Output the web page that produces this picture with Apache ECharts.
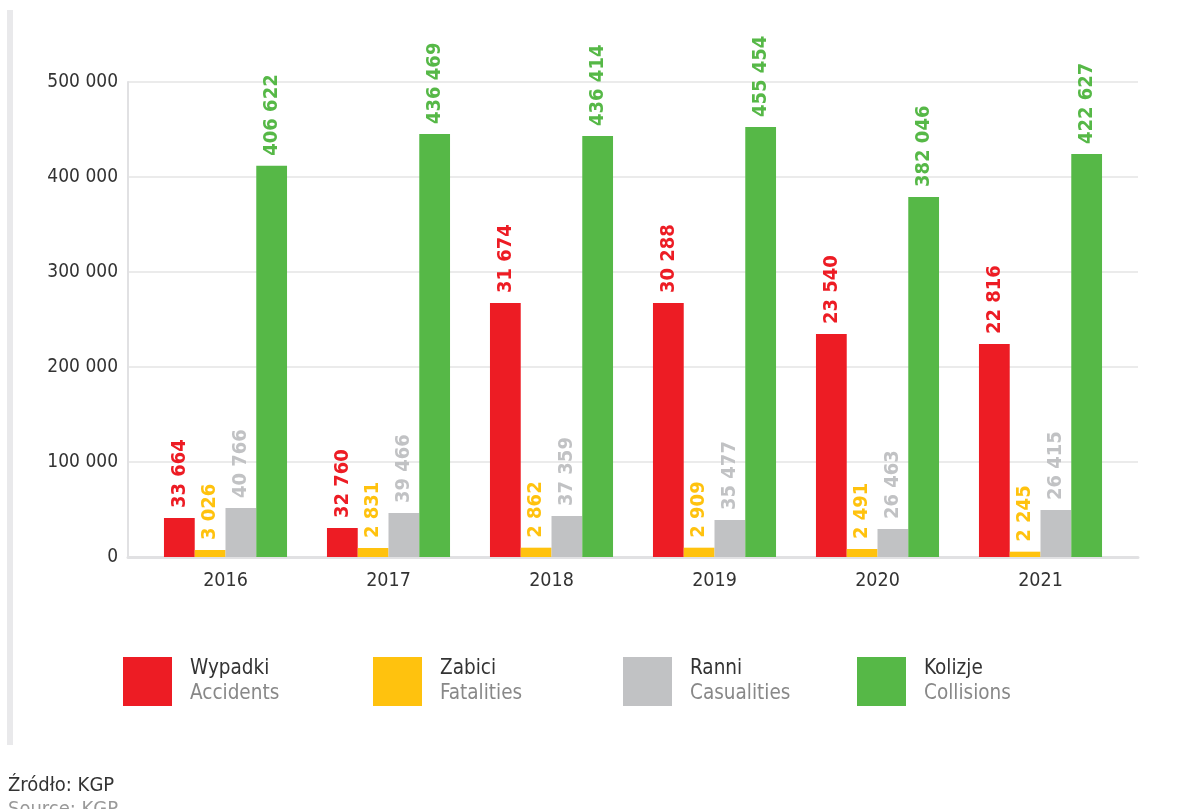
<!DOCTYPE html>
<html><head><meta charset="utf-8">
<script src="https://cdn.jsdelivr.net/npm/echarts@6/dist/echarts.min.js"></script>
<style>html,body{margin:0;padding:0;background:#fff}#c{width:1177px;height:809px}</style>
</head><body><div id="c"></div>
<script>
// ---- data ----
const years = ['2016', '2017', '2018', '2019', '2020', '2021'];
const seriesNamesPL = ['Wypadki', 'Zabici', 'Ranni', 'Kolizje'];
const seriesNamesEN = ['Accidents', 'Fatalities', 'Casualities', 'Collisions'];
// bar heights as drawn in the picture
const accidentsBars  = [41050, 30530, 267400, 267400, 234700, 224200];
const fatalitiesBars = [7400, 9500, 9800, 9800, 8400, 5600];
const casualtiesBars = [51600, 46300, 43200, 39000, 29500, 49500];
const collisionsBars = [411900, 445300, 443200, 452600, 379000, 424200];
// value labels as printed above the bars
const accidentsLabels  = ['33 664', '32 760', '31 674', '30 288', '23 540', '22 816'];
const fatalitiesLabels = ['3 026', '2 831', '2 862', '2 909', '2 491', '2 245'];
const casualtiesLabels = ['40 766', '39 466', '37 359', '35 477', '26 463', '26 415'];
const collisionsLabels = ['406 622', '436 469', '436 414', '455 454', '382 046', '422 627'];
const yMin = 0, yMax = 500000, yStep = 100000;
const sourcePL = 'Źródło: KGP';
const sourceEN = 'Source: KGP';

// ---- styles ----
const FONT = '"Liberation Sans Narrow", "DejaVu Sans Condensed", "Roboto", sans-serif';
const colors = ['#ED1C24', '#FFC20E', '#C1C2C4', '#56B847'];
const labelColors = ['#ED1C24', '#FFC20E', '#C1C2C4', '#56B847'];
const fmt = v => String(v).replace(/\B(?=(\d{3})+(?!\d))/g, ' ');

const bars = [accidentsBars, fatalitiesBars, casualtiesBars, collisionsBars];
const labels = [accidentsLabels, fatalitiesLabels, casualtiesLabels, collisionsLabels];

const chart = echarts.init(document.getElementById('c'), null, {renderer: 'canvas'});

const legendX = [123, 373, 623, 857];
const legends = seriesNamesPL.map((n, i) => ({
  data: [n],
  left: legendX[i],
  top: 657,
  padding: 0,
  orient: 'horizontal',
  itemWidth: 49,
  itemHeight: 49,
  icon: 'rect',
  selectedMode: false,
  formatter: name => '{a|' + name + '}\n{b|' + seriesNamesEN[i] + '}',
  textStyle: {
    rich: {
      a: {fontFamily: FONT, fontSize: 20.5, color: '#333333', lineHeight: 25, padding: [0, 0, 0, 13]},
      b: {fontFamily: FONT, fontSize: 20.5, color: '#888888', lineHeight: 25, padding: [0, 0, 0, 13]}
    }
  }
}));

const option = {
  animation: false,
  backgroundColor: '#ffffff',
  legend: legends,
  grid: [
    {left: 128, right: 39, top: 82, bottom: 252, containLabel: false},
    {left: 144, right: 55, top: 82, bottom: 252, containLabel: false}
  ],
  xAxis: [
    {type: 'category', gridIndex: 0, data: years, show: true,
     axisLine: {show: true, lineStyle: {color: '#e1e1e3', width: 3}},
     axisTick: {show: false}, axisLabel: {show: false}, splitLine: {show: false}},
    {type: 'category', gridIndex: 1, data: years,
     axisLine: {show: false}, axisTick: {show: false},
     axisLabel: {fontFamily: FONT, fontSize: 19.5, color: '#333333', margin: 14}}
  ],
  yAxis: [
    {type: 'value', gridIndex: 0, min: yMin, max: yMax, interval: yStep,
     axisLine: {show: true, lineStyle: {color: '#e1e1e3', width: 2}},
     axisTick: {show: false},
     axisLabel: {fontFamily: FONT, fontSize: 19, color: '#333333', margin: 10, formatter: fmt},
     splitLine: {show: true, lineStyle: {color: '#e4e4e4', width: 1.5}}},
    {type: 'value', gridIndex: 1, min: yMin, max: yMax, interval: yStep, show: false,
     splitLine: {show: false}}
  ],
  series: bars.map((arr, i) => ({
    type: 'bar',
    name: seriesNamesPL[i],
    xAxisIndex: 1, yAxisIndex: 1,
    data: arr,
    barGap: '0%',
    barCategoryGap: '24.5%',
    itemStyle: {color: colors[i]},
    label: {
      show: true,
      position: 'top',
      rotate: 90,
      align: 'left',
      verticalAlign: 'middle',
      distance: 10,
      fontFamily: FONT,
      fontWeight: 'bold',
      fontSize: 20,
      color: labelColors[i],
      formatter: p => labels[i][p.dataIndex]
    }
  })),
  graphic: [
    {type: 'rect', left: 7, top: 10, shape: {width: 6, height: 735}, style: {fill: '#e9e9eb'}, silent: true},
    {type: 'text', left: 8, top: 776, style: {text: sourcePL, fontFamily: FONT, fontSize: 20, fill: '#333333'}},
    {type: 'text', left: 8, top: 800, style: {text: sourceEN, fontFamily: FONT, fontSize: 20, fill: '#999999'}}
  ]
};
chart.setOption(option);
</script>
</body></html>
